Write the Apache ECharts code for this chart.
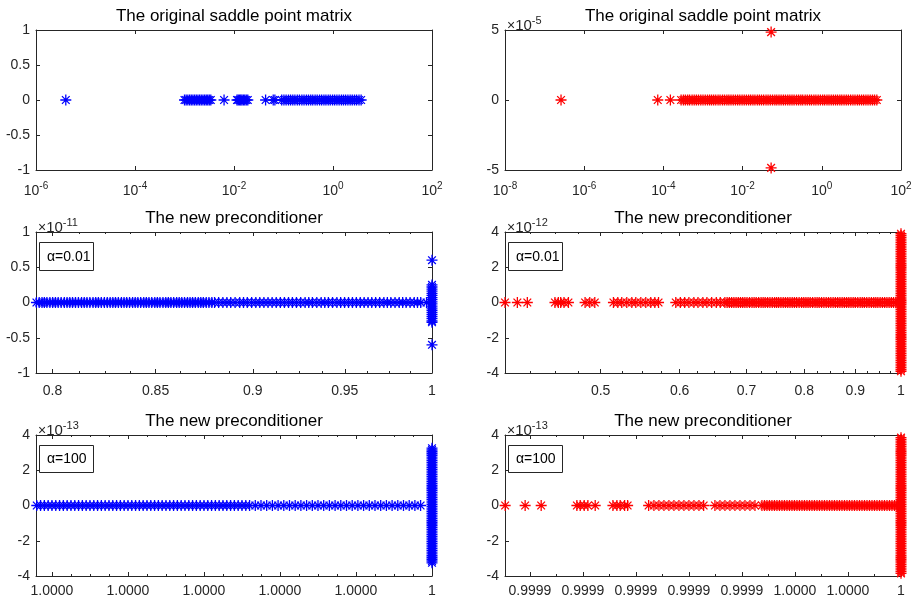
<!DOCTYPE html>
<html>
<head>
<meta charset="utf-8">
<title>Eigenvalue distribution</title>
<script src="https://cdn.jsdelivr.net/npm/echarts@6/dist/echarts.min.js"></script>
<style>
  html, body { margin: 0; padding: 0; background: #fff; }
  #main { width: 917px; height: 603px; }
</style>
</head>
<body>
<div id="main"></div>
<script>

// top left: original saddle point matrix (alpha = 0.01)
const tlOnAxis = [4.0e-6, 1.0e-3, 1.08e-3, 1.17e-3, 1.27e-3, 1.37e-3, 1.48e-3, 1.6e-3, 1.73e-3, 1.87e-3,
  2.02e-3, 2.18e-3, 2.36e-3, 2.55e-3, 2.75e-3, 2.95e-3, 3.17e-3, 3.4e-3,
  6.3e-3, 1.15e-2, 1.22e-2, 1.3e-2, 1.37e-2, 1.45e-2, 1.55e-2, 1.65e-2, 1.77e-2, 1.9e-2, 4.35e-2, 6.2e-2, 6.7e-2,
  0.092, 0.102, 0.113, 0.126, 0.139, 0.154, 0.17, 0.19, 0.21, 0.235, 0.26, 0.29, 0.32, 0.355, 0.39,
  0.435, 0.48, 0.535, 0.59, 0.655, 0.72, 0.8, 0.88, 0.98, 1.08, 1.2, 1.33, 1.48, 1.63, 1.8, 2.0,
  2.22, 2.45, 2.72, 3.0, 3.35, 3.7];

// top right: original saddle point matrix (alpha = 100)
const trOnAxis = [2.6e-7, 7.2e-5, 1.5e-4, 2.8e-4, 3.2e-4, 3.6e-4, 4.1e-4, 4.6e-4, 5.3e-4, 6.0e-4, 6.8e-4,
  7.7e-4, 8.8e-4, 1.0e-3, 1.14e-3, 1.3e-3, 1.47e-3, 1.65e-3, 1.86e-3, 2.1e-3, 2.4e-3, 2.7e-3, 3.1e-3,
  3.5e-3, 4.0e-3, 4.5e-3, 5.1e-3, 5.8e-3, 6.6e-3, 7.5e-3, 8.5e-3, 9.7e-3, 1.1e-2, 1.25e-2, 1.42e-2,
  1.6e-2, 1.82e-2, 2.05e-2, 2.35e-2, 2.65e-2, 3.0e-2, 3.4e-2, 3.9e-2, 4.4e-2, 5.0e-2, 5.7e-2, 6.5e-2,
  7.3e-2, 8.3e-2, 9.4e-2, 0.107, 0.121, 0.138, 0.156, 0.177, 0.2, 0.23, 0.26, 0.295, 0.33, 0.38,
  0.43, 0.49, 0.55, 0.63, 0.71, 0.81, 0.92, 1.05, 1.18, 1.35, 1.52, 1.73, 1.96, 2.22, 2.5, 2.85,
  3.2, 3.65, 4.15, 4.7, 5.35, 6.1, 6.9, 7.9, 8.9, 10.1, 11.4, 13, 14.7, 16.7, 19, 21.5, 24.5];
const trComplexRe = [0.0525, 0.0525];
const trComplexIm = [4.85e-5, -4.85e-5];

// middle left: new preconditioner, alpha = 0.01
const mlOnAxis = [0.7925, 0.7938, 0.7951, 0.7962, 0.7974, 0.7988, 0.8001, 0.8014, 0.8027, 0.8041,
  0.8056, 0.8069, 0.8082, 0.8095, 0.8109, 0.8123, 0.8138, 0.8151, 0.8164, 0.8178, 0.8193, 0.8206,
  0.8219, 0.8233, 0.8248, 0.8262, 0.8276, 0.8289, 0.8302, 0.8316, 0.8331, 0.8344, 0.8357, 0.8371,
  0.8386, 0.8399, 0.8412, 0.8426, 0.8441, 0.8454, 0.8467, 0.8481, 0.8496, 0.8509, 0.8522, 0.8537,
  0.8551, 0.8564, 0.8577, 0.8591, 0.8606, 0.8619, 0.8632, 0.8646, 0.8661, 0.8674, 0.8687, 0.8701,
  0.8716, 0.8729, 0.8742, 0.8757, 0.8771, 0.8786, 0.8800, 0.8821, 0.8843, 0.8864, 0.8884, 0.8907,
  0.8931, 0.8951, 0.8971, 0.8994, 0.9016, 0.9037, 0.9059, 0.9081, 0.9103, 0.9125, 0.9147, 0.9169,
  0.9191, 0.9212, 0.9234, 0.9257, 0.9281, 0.9301, 0.9321, 0.9345, 0.9369, 0.9389, 0.9409, 0.9432,
  0.9456, 0.9477, 0.9499, 0.9521, 0.9543, 0.9565, 0.9587, 0.9609, 0.9631, 0.9652, 0.9674, 0.9697,
  0.9721, 0.9741, 0.9761, 0.9785, 0.9809, 0.9829, 0.9849, 0.9872, 0.9896, 0.9915, 0.9934, 0.9968];
const mlAtOneIm = [0.25e-11, 0.22e-11, 0.19e-11, 0.16e-11, 0.13e-11, 0.10e-11, 0.07e-11, 0.04e-11,
  0.01e-11, -0.02e-11, -0.05e-11, -0.08e-11, -0.11e-11, -0.14e-11, -0.17e-11, -0.20e-11, -0.23e-11,
  -0.26e-11, -0.28e-11, 0.6e-11, -0.6e-11];

// middle right: new preconditioner, alpha = 0.01
const mrOnAxis = [0.401, 0.4126, 0.4222, 0.4500, 0.4535, 0.4560, 0.4595, 0.4642, 0.4824, 0.4876, 0.4933,
  0.5150, 0.5202, 0.5250, 0.5311, 0.5373, 0.5423, 0.5486, 0.5549, 0.5613, 0.5666, 0.5715,
  0.5947, 0.601, 0.607, 0.613, 0.620, 0.626, 0.633, 0.639, 0.646, 0.653, 0.659, 0.666, 0.6695, 0.673,
  0.6765, 0.680, 0.6835, 0.687, 0.6905, 0.694, 0.6975, 0.701, 0.705, 0.709, 0.7125, 0.716, 0.72,
  0.724, 0.7275, 0.731, 0.735, 0.739, 0.743, 0.747, 0.7505, 0.754, 0.758, 0.762, 0.766, 0.770, 0.774,
  0.778, 0.782, 0.786, 0.7905, 0.795, 0.799, 0.803, 0.807, 0.811, 0.8155, 0.820, 0.824, 0.828, 0.8325,
  0.837, 0.8415, 0.846, 0.8505, 0.855, 0.8595, 0.864, 0.8685, 0.873, 0.8775, 0.882, 0.8865, 0.891,
  0.8955, 0.900, 0.905, 0.910, 0.9145, 0.919, 0.924, 0.929, 0.934, 0.939, 0.9435, 0.948, 0.953, 0.958,
  0.963, 0.968, 0.973, 0.978, 0.983, 0.988];
const mrAtOneIm = [3.9e-12, 3.8e-12, 3.7e-12, 3.6e-12, 3.5e-12, 3.4e-12, 3.3e-12, 3.2e-12, 3.1e-12,
  3.0e-12, 2.9e-12, 2.8e-12, 2.7e-12, 2.6e-12, 2.5e-12, 2.4e-12, 2.3e-12, 2.2e-12, 2.1e-12, 2.0e-12,
  1.9e-12, 1.8e-12, 1.7e-12, 1.6e-12, 1.5e-12, 1.4e-12, 1.3e-12, 1.2e-12, 1.1e-12, 1.0e-12, 0.9e-12,
  0.8e-12, 0.7e-12, 0.6e-12, 0.5e-12, 0.4e-12, 0.3e-12, 0.2e-12, 0.1e-12, 0, -0.1e-12, -0.2e-12,
  -0.3e-12, -0.4e-12, -0.5e-12, -0.6e-12, -0.7e-12, -0.8e-12, -0.9e-12, -1.0e-12, -1.1e-12, -1.2e-12,
  -1.3e-12, -1.4e-12, -1.5e-12, -1.6e-12, -1.7e-12, -1.8e-12, -1.9e-12, -2.0e-12, -2.1e-12, -2.2e-12,
  -2.3e-12, -2.4e-12, -2.5e-12, -2.6e-12, -2.7e-12, -2.8e-12, -2.9e-12, -3.0e-12, -3.1e-12, -3.2e-12,
  -3.3e-12, -3.4e-12, -3.5e-12, -3.6e-12, -3.7e-12, -3.8e-12, -3.9e-12];

// bottom left: new preconditioner, alpha = 100
const blOnAxis = [0.9999896, 0.9999897, 0.9999898, 0.9999899, 0.9999900, 0.9999901, 0.9999902,
  0.9999903, 0.9999904, 0.9999905, 0.9999906, 0.9999907, 0.9999908, 0.9999909, 0.9999910, 0.9999911,
  0.9999912, 0.9999913, 0.9999914, 0.9999915, 0.9999916, 0.9999917, 0.9999918, 0.9999919, 0.9999920,
  0.9999921, 0.9999922, 0.9999923, 0.9999924, 0.9999925, 0.9999926, 0.9999927, 0.9999928, 0.9999929,
  0.9999930, 0.9999931, 0.9999932, 0.9999933, 0.9999934, 0.9999935, 0.9999936, 0.9999937, 0.9999938,
  0.9999939, 0.9999940, 0.9999941, 0.9999942, 0.9999943, 0.9999944, 0.9999945, 0.9999946, 0.9999947,
  0.9999948, 0.9999949, 0.9999950, 0.9999951, 0.9999952, 0.99999535, 0.9999955, 0.99999565,
  0.9999958, 0.99999595, 0.9999961, 0.99999625, 0.9999964, 0.99999655, 0.9999967, 0.99999685,
  0.999997, 0.99999715, 0.9999973, 0.99999745, 0.9999976, 0.99999775, 0.9999979, 0.99999805,
  0.9999982, 0.99999835, 0.9999985, 0.99999865, 0.9999988, 0.99999895, 0.9999991, 0.99999925,
  0.9999994, 0.99999955, 0.9999997];
const blAtOneIm = [3.25e-13, 3.15e-13, 3.05e-13, 2.95e-13, 2.85e-13, 2.75e-13, 2.65e-13, 2.55e-13,
  2.45e-13, 2.35e-13, 2.25e-13, 2.15e-13, 2.05e-13, 1.95e-13, 1.85e-13, 1.75e-13, 1.65e-13, 1.55e-13,
  1.45e-13, 1.35e-13, 1.25e-13, 1.15e-13, 1.05e-13, 0.95e-13, 0.85e-13, 0.75e-13, 0.65e-13, 0.55e-13,
  0.45e-13, 0.35e-13, 0.25e-13, 0.15e-13, 0.05e-13, -0.05e-13, -0.15e-13, -0.25e-13, -0.35e-13,
  -0.45e-13, -0.55e-13, -0.65e-13, -0.75e-13, -0.85e-13, -0.95e-13, -1.05e-13, -1.15e-13, -1.25e-13,
  -1.35e-13, -1.45e-13, -1.55e-13, -1.65e-13, -1.75e-13, -1.85e-13, -1.95e-13, -2.05e-13, -2.15e-13,
  -2.25e-13, -2.35e-13, -2.45e-13, -2.55e-13, -2.65e-13, -2.75e-13, -2.85e-13, -2.95e-13, -3.05e-13,
  -3.15e-13, -3.25e-13];

// bottom right: new preconditioner, alpha = 100
const brOnAxis = [0.99985066, 0.9998582, 0.99986425, 0.99987772, 0.99987897, 0.99988048, 0.99988187,
  0.99988463, 0.99989131, 0.99989282, 0.99989406, 0.99989572, 0.99989686, 0.99990478, 0.99990678,
  0.99990867, 0.99991056, 0.99991244, 0.99991433, 0.99991622, 0.9999181, 0.99991999, 0.99992188,
  0.99992377, 0.99992554, 0.9999298, 0.99993169, 0.99993358, 0.99993546, 0.99993735, 0.99993924,
  0.99994113, 0.99994301, 0.9999449, 0.99994754, 0.99994849, 0.99994943, 0.99995037, 0.99995131,
  0.99995226, 0.9999532, 0.99995414, 0.99995509, 0.99995603, 0.99995698, 0.99995792, 0.99995886,
  0.9999598, 0.99996075, 0.99996169, 0.99996264, 0.99996358, 0.99996452, 0.99996547, 0.99996641,
  0.99996735, 0.9999683, 0.99996924, 0.99997019, 0.99997113, 0.99997207, 0.99997302, 0.99997396,
  0.9999749, 0.99997585, 0.99997679, 0.99997773, 0.99997868, 0.99997962, 0.99998056, 0.99998151,
  0.99998245, 0.9999834, 0.99998434, 0.99998528, 0.99998623, 0.99998717, 0.99998811, 0.99998906,
  0.99999, 0.99999094, 0.99999189, 0.99999283, 0.99999377, 0.99999472, 0.99999566, 0.9999966,
  0.99999755, 0.99999849, 0.99999943];
const brAtOneIm = [3.85e-13, 3.75e-13, 3.65e-13, 3.55e-13, 3.45e-13, 3.35e-13, 3.25e-13, 3.15e-13,
  3.05e-13, 2.95e-13, 2.85e-13, 2.75e-13, 2.65e-13, 2.55e-13, 2.45e-13, 2.35e-13, 2.25e-13, 2.15e-13,
  2.05e-13, 1.95e-13, 1.85e-13, 1.75e-13, 1.65e-13, 1.55e-13, 1.45e-13, 1.35e-13, 1.25e-13, 1.15e-13,
  1.05e-13, 0.95e-13, 0.85e-13, 0.75e-13, 0.65e-13, 0.55e-13, 0.45e-13, 0.35e-13, 0.25e-13, 0.15e-13,
  0.05e-13, -0.05e-13, -0.15e-13, -0.25e-13, -0.35e-13, -0.45e-13, -0.55e-13, -0.65e-13, -0.75e-13,
  -0.85e-13, -0.95e-13, -1.05e-13, -1.15e-13, -1.25e-13, -1.35e-13, -1.45e-13, -1.55e-13, -1.65e-13,
  -1.75e-13, -1.85e-13, -1.95e-13, -2.05e-13, -2.15e-13, -2.25e-13, -2.35e-13, -2.45e-13, -2.55e-13,
  -2.65e-13, -2.75e-13, -2.85e-13, -2.95e-13, -3.05e-13, -3.15e-13, -3.25e-13, -3.35e-13, -3.45e-13,
  -3.55e-13, -3.65e-13, -3.75e-13, -3.85e-13];

// tick values
const tlXTicks = [1e-6, 1e-4, 1e-2, 1, 100];
const trXTicks = [1e-8, 1e-6, 1e-4, 1e-2, 1, 100];
const mlXTicks = [0.8, 0.85, 0.9, 0.95, 1];
const mlXMinor = [0.8125, 0.825, 0.8375, 0.8625, 0.875, 0.8875, 0.9125, 0.925, 0.9375, 0.9625, 0.975, 0.9875];
const mrXTicks = [0.5, 0.6, 0.7, 0.8, 0.9, 1];
const mrXMinor = [0.425, 0.45, 0.475, 0.525, 0.55, 0.575, 0.625, 0.65, 0.675, 0.725, 0.75, 0.775,
  0.825, 0.85, 0.875, 0.925, 0.95, 0.975];
const blXTicks = [0.99999, 0.999992, 0.999994, 0.999996, 0.999998, 1];
const blXMinor = [0.9999905, 0.999991, 0.9999915, 0.9999925, 0.999993, 0.9999935, 0.9999945, 0.999995,
  0.9999955, 0.9999965, 0.999997, 0.9999975, 0.9999985, 0.999999, 0.9999995];
const brXTicks = [0.99986, 0.99988, 0.9999, 0.99992, 0.99994, 0.99996, 0.99998, 1];
const brXMinor = [0.99987, 0.99989, 0.99991, 0.99993, 0.99995, 0.99997, 0.99999];
const tlYTicks = [-1, -0.5, 0, 0.5, 1];
const trYTicks = [-5e-5, 0, 5e-5];
const mlYTicks = [-1e-11, -0.5e-11, 0, 0.5e-11, 1e-11];
const mrYTicks = [-4e-12, -2e-12, 0, 2e-12, 4e-12];
const bYTicks = [-4e-13, -2e-13, 0, 2e-13, 4e-13];

const BLUE = '#0000ff';
const RED = '#ff0000';
const AXIS = '#262626';
const FONT = '"Liberation Sans", Arial, Helvetica, sans-serif';
// matlab style '*' marker
const STAR = 'path://M0,-1L0,1M-1,0L1,0M-0.7,-0.7L0.7,0.7M-0.7,0.7L0.7,-0.7';

const pow10Fmt = v => '{b|10}{s|' + Math.round(Math.log10(v)) + '}';
const plainFmt = v => String(+v.toFixed(3));
const fourFmt = v => (Math.abs(v - 1) < 1e-12 ? '1' : v.toFixed(4));

const panels = [
  { left: 36, top: 30, h: 140, xMin: 1e-6, xMax: 100, xTicks: tlXTicks, xMinor: null, xFmt: pow10Fmt, xMargin: 11,
    yMin: -1, yMax: 1, yTicks: tlYTicks, yMul: 1, exp: null, color: BLUE,
    title: 'The original saddle point matrix', legend: null,
    data: [tlOnAxis.map(x => [x, 0])] },
  { left: 505, top: 30, h: 140, xMin: 1e-8, xMax: 100, xTicks: trXTicks, xMinor: null, xFmt: pow10Fmt, xMargin: 11,
    yMin: -5e-5, yMax: 5e-5, yTicks: trYTicks, yMul: 1e5, exp: '-5', color: RED,
    title: 'The original saddle point matrix', legend: null,
    data: [trOnAxis.map(x => [x, 0]), trComplexRe.map((x, k) => [x, trComplexIm[k]])] },
  { left: 36, top: 232, h: 141, xMin: 0.7923, xMax: 1, xTicks: mlXTicks, xMinor: mlXMinor, xFmt: plainFmt, xMargin: 11,
    yMin: -1e-11, yMax: 1e-11, yTicks: mlYTicks, yMul: 1e11, exp: '-11', color: BLUE,
    title: 'The new preconditioner', legend: 'α=0.01',
    data: [mlOnAxis.map(x => [x, 0]), mlAtOneIm.map(y => [1, y])] },
  { left: 505, top: 232, h: 141, xMin: 0.401, xMax: 1, xTicks: mrXTicks, xMinor: mrXMinor, xFmt: plainFmt, xMargin: 11,
    yMin: -4e-12, yMax: 4e-12, yTicks: mrYTicks, yMul: 1e12, exp: '-12', color: RED,
    title: 'The new preconditioner', legend: 'α=0.01',
    data: [mrOnAxis.map(x => [x, 0]), mrAtOneIm.map(y => [1, y])] },
  { left: 36, top: 435, h: 141, xMin: 0.99998958, xMax: 1, xTicks: blXTicks, xMinor: blXMinor, xFmt: fourFmt, xMargin: 8,
    yMin: -4e-13, yMax: 4e-13, yTicks: bYTicks, yMul: 1e13, exp: '-13', color: BLUE,
    title: 'The new preconditioner', legend: 'α=100',
    data: [blOnAxis.map(x => [x, 0]), blAtOneIm.map(y => [1, y])] },
  { left: 505, top: 435, h: 141, xMin: 0.9998506, xMax: 1, xTicks: brXTicks, xMinor: brXMinor, xFmt: fourFmt, xMargin: 8,
    yMin: -4e-13, yMax: 4e-13, yTicks: bYTicks, yMul: 1e13, exp: '-13', color: RED,
    title: 'The new preconditioner', legend: 'α=100',
    data: [brOnAxis.map(x => [x, 0]), brAtOneIm.map(y => [1, y])] }
];

const W = 396;
const grids = [], xMain = [], yMain = [], xExtra = [], yExtra = [], series = [], graphics = [];

function xAxis(p, gi, pos, ticks, len, withLabel, withLine) {
  return {
    type: 'log', gridIndex: gi, position: pos, min: p.xMin, max: p.xMax,
    axisLine: { show: withLine, onZero: false, lineStyle: { color: AXIS, width: 1 } },
    axisTick: { show: true, inside: true, length: len, customValues: ticks, lineStyle: { color: AXIS, width: 1 } },
    axisLabel: withLabel ? {
      show: true, customValues: ticks, formatter: p.xFmt, margin: p.xMargin,
      showMinLabel: true, showMaxLabel: true,
      color: AXIS, fontSize: 14, fontFamily: FONT,
      rich: {
        b: { fontSize: 14, lineHeight: 17, verticalAlign: 'bottom', color: AXIS, fontFamily: FONT },
        s: { fontSize: 10, lineHeight: 10, verticalAlign: 'top', color: AXIS, fontFamily: FONT }
      }
    } : { show: false },
    splitLine: { show: false }, minorTick: { show: false }
  };
}

function yAxis(p, gi, pos, withLabel) {
  return {
    type: 'value', gridIndex: gi, position: pos, min: p.yMin, max: p.yMax,
    axisLine: { show: true, onZero: false, lineStyle: { color: AXIS, width: 1 } },
    axisTick: { show: true, inside: true, length: 4, customValues: p.yTicks, lineStyle: { color: AXIS, width: 1 } },
    axisLabel: withLabel ? {
      show: true, customValues: p.yTicks, margin: 6, color: AXIS, fontSize: 14, fontFamily: FONT,
      showMinLabel: true, showMaxLabel: true,
      formatter: v => String(+(v * p.yMul).toFixed(1))
    } : { show: false },
    splitLine: { show: false }
  };
}

panels.forEach((p, i) => {
  grids.push({ left: p.left, top: p.top, width: W, height: p.h, containLabel: false, outerBoundsMode: 'none' });
  xMain.push(xAxis(p, i, 'bottom', p.xTicks, 4, true, true));
  yMain.push(yAxis(p, i, 'left', true));
  xExtra.push(xAxis(p, i, 'top', p.xTicks, 4, false, true));
  if (p.xMinor) {
    xExtra.push(xAxis(p, i, 'bottom', p.xMinor, 2, false, false));
    xExtra.push(xAxis(p, i, 'top', p.xMinor, 2, false, false));
  }
  yExtra.push(yAxis(p, i, 'right', false));

  p.data.forEach(d => {
    series.push({
      type: 'scatter', xAxisIndex: i, yAxisIndex: i, data: d,
      symbol: STAR, symbolSize: 11, clip: false, silent: true,
      itemStyle: { color: p.color, borderColor: p.color, borderWidth: 1.3, opacity: 1 },
      emphasis: { disabled: true }
    });
  });

  const cx = p.left + W / 2;
  graphics.push({
    type: 'text', x: cx, y: p.top - 14, z: 100,
    style: { text: p.title, fill: '#000', font: '17px ' + FONT, align: 'center', verticalAlign: 'middle' }
  });
  if (p.exp) {
    graphics.push({
      type: 'text', x: p.left + 2, y: p.top + 3, z: 100,
      style: {
        text: '{m|×}{b|10}{s|' + p.exp + '}', align: 'left', verticalAlign: 'bottom',
        rich: {
          m: { fontSize: 14, lineHeight: 18, verticalAlign: 'bottom', fill: AXIS, fontFamily: FONT },
          b: { fontSize: 15, lineHeight: 18, verticalAlign: 'bottom', fill: AXIS, fontFamily: FONT },
          s: { fontSize: 11, lineHeight: 11, verticalAlign: 'top', fill: AXIS, fontFamily: FONT }
        }
      }
    });
  }
  if (p.legend) {
    const ly = i < 4 ? 242 : 445;
    const lh = i < 4 ? 28 : 27;
    graphics.push({
      type: 'rect', z: 100,
      shape: { x: p.left + 3.5, y: ly + 0.5, width: 54, height: lh },
      style: { fill: '#fff', stroke: AXIS, lineWidth: 1 }
    });
    graphics.push({
      type: 'text', x: p.left + 11, y: ly + lh / 2 + 1, z: 101,
      style: { text: p.legend, fill: '#000', font: '14px ' + FONT, align: 'left', verticalAlign: 'middle' }
    });
  }
});

const chart = echarts.init(document.getElementById('main'), null, { renderer: 'canvas' });
chart.setOption({
  animation: false,
  backgroundColor: '#fff',
  grid: grids,
  xAxis: xMain.concat(xExtra),
  yAxis: yMain.concat(yExtra),
  series: series,
  graphic: { elements: graphics }
});
</script>
</body>
</html>
